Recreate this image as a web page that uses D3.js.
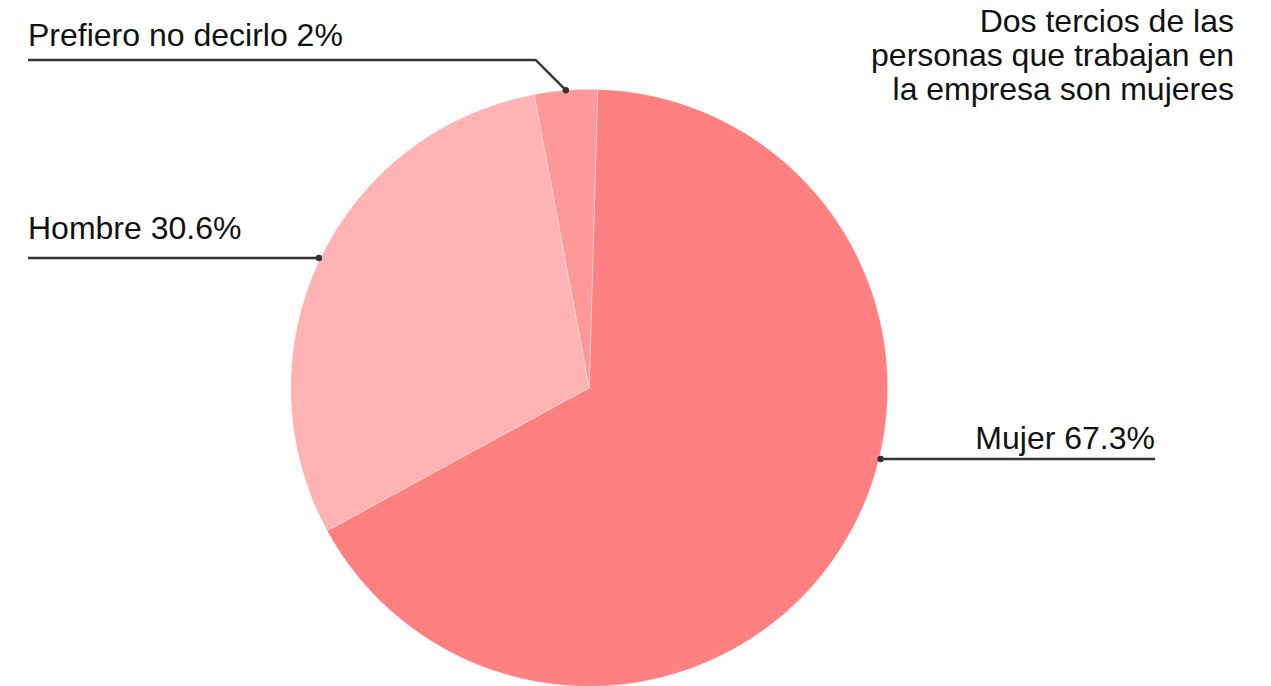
<!DOCTYPE html>
<html>
<head>
<meta charset="utf-8">
<script src="https://cdn.jsdelivr.net/npm/d3@7/dist/d3.min.js"></script>
<style>
  html, body { margin: 0; padding: 0; background: #fff; }
  svg { display: block; }
  text { font-family: "Liberation Sans", Arial, Helvetica, sans-serif; fill: #111; }
</style>
</head>
<body>
<div id="chart"></div>
<script>
// ---- data ----
const categories = ["Mujer", "Hombre", "Prefiero no decirlo"];
const labelPercents = ["67.3%", "30.6%", "2%"];
// slice shares as drawn in the picture
const sliceShares = [66.6, 30.0, 3.4];
const sliceColors = ["#ff8080", "#ffb3b3", "#ff9999"];
const titleLines = ["Dos tercios de las", "personas que trabajan en", "la empresa son mujeres"];

// ---- layout ----
const W = 1271, H = 686;
const cx = 589.2, cy = 387.8, R = 298.5;
const startDeg = 1.63;
const fontSize = 32;

const svg = d3.select("#chart").append("svg").attr("width", W).attr("height", H);

const pie = d3.pie().sort(null)
  .startAngle(startDeg * Math.PI / 180)
  .endAngle(startDeg * Math.PI / 180 + 2 * Math.PI);
const arcs = pie(sliceShares);
const arc = d3.arc().innerRadius(0).outerRadius(R);

const g = svg.append("g").attr("transform", `translate(${cx},${cy})`);
g.selectAll("path").data(arcs).join("path")
  .attr("d", arc)
  .attr("fill", (d, i) => sliceColors[i])
  .attr("stroke", "#fff").attr("stroke-width", 0.6).attr("stroke-opacity", 0.6);

// label placement (layout only)
const labelLayout = [
  { side: "right", lineY: 459, textX: 1155, baseline: 449, lineEnd: 1155 },
  { side: "left", lineY: 258, textX: 28, baseline: 239, lineEnd: 28 },
  { side: "left", lineY: 60, textX: 28, baseline: 46, lineEnd: 28, elbow: true }
];

const lines = svg.append("g");
arcs.forEach((a, i) => {
  const L = labelLayout[i];
  let dot;
  if (L.elbow) {
    const m = (a.startAngle + a.endAngle) / 2;
    dot = [cx + R * Math.sin(m), cy - R * Math.cos(m)];
    const dy = dot[1] - L.lineY;
    const elbowX = dot[0] - dy; // 45-degree leg
    lines.append("path")
      .attr("d", `M${L.lineEnd},${L.lineY}H${elbowX}L${dot[0]},${dot[1]}`)
      .attr("fill", "none").attr("stroke", "#333").attr("stroke-width", 2.4);
  } else {
    const dy = L.lineY - cy;
    const dx = Math.sqrt(R * R - dy * dy) + 1.5;
    dot = [L.side === "right" ? cx + dx : cx - dx, L.lineY];
    lines.append("path")
      .attr("d", `M${dot[0]},${L.lineY}H${L.lineEnd}`)
      .attr("fill", "none").attr("stroke", "#333").attr("stroke-width", 2.4);
  }
  lines.append("circle").attr("cx", dot[0]).attr("cy", dot[1]).attr("r", 3.2).attr("fill", "#333");
  svg.append("text")
    .attr("x", L.textX).attr("y", L.baseline)
    .attr("text-anchor", L.side === "right" ? "end" : "start")
    .attr("font-size", fontSize)
    .text(categories[i] + " " + labelPercents[i]);
});

// title
const title = svg.append("text").attr("text-anchor", "end").attr("font-size", fontSize);
titleLines.forEach((t, i) => {
  title.append("tspan").attr("x", 1234).attr("y", 32 + i * 34.2).text(t);
});
</script>
</body>
</html>
